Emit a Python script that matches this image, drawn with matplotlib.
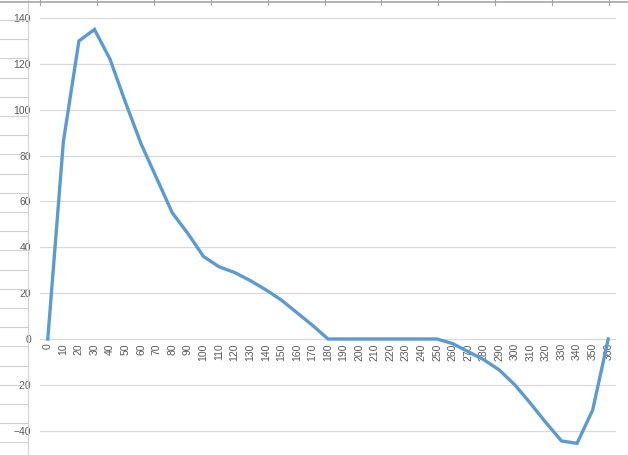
import numpy as np
import matplotlib.pyplot as plt
from matplotlib.lines import Line2D

# angle categories and values
angles = list(range(0, 361, 10))
values = [0, 86, 130, 135, 122, 103, 85, 70, 55, 46,
          36, 31.5, 29, 25.5, 21.5, 17, 11.5, 6, 0, 0,
          0, 0, 0, 0, 0, 0, -2, -5.5, -9, -13.5,
          -20, -28, -36.5, -44.5, -45.5, -31, 0]
yticks = [-40, -20, 0, 20, 40, 60, 80, 100, 120, 140]

W, H = 628, 455
fig = plt.figure(figsize=(W/100, H/100), dpi=100)
fig.patch.set_facecolor('white')

# spreadsheet bits peeking out behind the chart
for k in range(30):
    y = 20 + 19.2*k
    if y > H:
        break
    fig.add_artist(Line2D([0, 28/W], [1-y/H, 1-y/H], color='#d0d0d0', lw=0.8))
fig.add_artist(Line2D([28.5/W, 28.5/W], [0, 1], color='#d0d0d0', lw=0.8))
fig.add_artist(Line2D([0, 1], [1-1.5/H, 1-1.5/H], color='#a6a6a6', lw=1.2))
for k in range(11):
    x = 40 + 56.9*k
    fig.add_artist(Line2D([x/W, x/W], [1-5/H, 1], color='#a6a6a6', lw=0.8))

ax = fig.add_axes([40/W, 0, 576/W, 1-18/H])
xpos = np.arange(len(angles))
ax.plot(xpos, values, color='#5b9bd5', lw=2.4, solid_joinstyle='miter', zorder=3)

ax.set_xlim(-0.5, len(angles)-0.5)
ax.set_ylim(-50.6, 140)
ax.set_yticks(yticks)
ax.set_xticks(xpos)
ax.set_xticklabels([str(a) for a in angles])
ax.grid(axis='y', color='#d9d9d9', lw=0.9)
ax.set_axisbelow(True)
for s in ['left', 'right', 'top']:
    ax.spines[s].set_visible(False)
ax.spines['bottom'].set_position(('data', 0))
ax.spines['bottom'].set_visible(False)
ax.tick_params(axis='both', length=0, colors='#595959', labelsize=7.5)
ax.tick_params(axis='y', pad=6.5)
ax.tick_params(axis='x', pad=3, labelrotation=90)
for t in ax.get_xticklabels() + ax.get_yticklabels():
    t.set_fontfamily('Liberation Sans')
ax.set_facecolor('none')

fig.savefig('out.png', dpi=100)
